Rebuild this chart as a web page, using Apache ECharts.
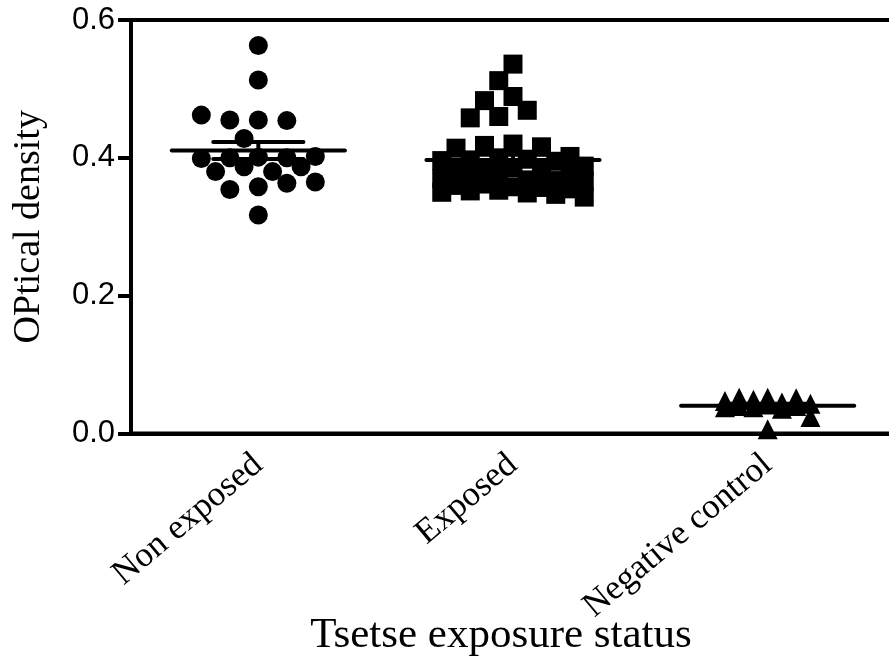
<!doctype html>
<html>
<head>
<meta charset="utf-8">
<title>Optical density</title>
<script src="https://cdn.jsdelivr.net/npm/echarts@6/dist/echarts.min.js"></script>
<style>
  html, body { margin: 0; padding: 0; background: #fff; }
  #chart { width: 889px; height: 663px; }
</style>
</head>
<body>
<div id="chart"></div>
<script>
// data
var categories = ['Non exposed', 'Exposed', 'Negative control'];
var yTicks = [0, 0.2, 0.4, 0.6];

var nonExposed = [
  0.563, 0.513,
  0.455, 0.455, 0.454, 0.462,
  0.428,
  0.401, 0.400, 0.400, 0.399, 0.402,
  0.387, 0.380, 0.387, 0.380,
  0.365, 0.358, 0.354, 0.363,
  0.317
];
var exposed = [
  0.536, 0.512, 0.489, 0.483, 0.469, 0.460, 0.458,
  0.420, 0.418, 0.416, 0.414,
  0.402, 0.400, 0.398, 0.397, 0.396, 0.395,
  0.388, 0.386, 0.384, 0.383, 0.381, 0.380,
  0.374, 0.372, 0.370, 0.368, 0.367, 0.366,
  0.362, 0.360, 0.358, 0.357, 0.355, 0.353, 0.352, 0.350, 0.349, 0.347, 0.343
];
var negativeControl = [
  0.052, 0.052, 0.051, 0.049, 0.047, 0.045, 0.043, 0.042,
  0.040, 0.040, 0.038, 0.038, 0.036, 0.024, 0.006
];

// layout
var W = 889, H = 663;
var gridBox = { left: 131, right: -6, top: 20, bottom: 229.5 };
var pxPerY = (H - gridBox.top - gridBox.bottom) / 0.6;
var pxPerCat = (W - gridBox.left - gridBox.right) / categories.length;
var SYM = 19;       // symbol size
var STEP = 14.25;   // horizontal column step of the dot plot
var maxCols = [4, 5, 3];

// simple dot plot spread: each point takes the nearest free column
function spread(values, idx) {
  var placed = [];
  var out = [];
  var cand = [0];
  for (var k = 1; k <= maxCols[idx]; k++) { cand.push(-k, k); }
  values.forEach(function (v) {
    var y = v * pxPerY;
    var best = 0, bestD = -1;
    for (var c = 0; c < cand.length; c++) {
      var x = cand[c] * STEP;
      var d = Infinity;
      placed.forEach(function (p) {
        var dd = Math.sqrt((p[0] - x) * (p[0] - x) + (p[1] - y) * (p[1] - y));
        if (dd < d) d = dd;
      });
      if (d >= SYM) { best = x; bestD = d; break; }
      if (d > bestD) { bestD = d; best = x; }
    }
    placed.push([best, y]);
    out.push([idx + best / pxPerCat, v]);
  });
  return out;
}

function stats(values) {
  var n = values.length;
  var m = values.reduce(function (a, b) { return a + b; }, 0) / n;
  var ss = values.reduce(function (a, b) { return a + (b - m) * (b - m); }, 0);
  var sd = Math.sqrt(ss / (n - 1));
  return { mean: m, sem: sd / Math.sqrt(n) };
}

var groups = [nonExposed, exposed, negativeControl];
var symbols = ['circle', 'rect', 'triangle'];

var series = groups.map(function (vals, i) {
  return {
    name: categories[i],
    type: 'scatter',
    xAxisIndex: 1,
    symbol: symbols[i],
    symbolSize: i === 2 ? 20 : SYM,
    itemStyle: { color: '#000', opacity: 1 },
    data: spread(vals, i),
    z: 3
  };
});

// mean with SEM bars
function segment(p1, p2) {
  return {
    type: 'line',
    xAxisIndex: 1,
    symbol: 'none',
    silent: true,
    lineStyle: { color: '#000', width: 4, cap: 'round' },
    data: [p1, p2],
    z: 4
  };
}
groups.forEach(function (vals, i) {
  var s = stats(vals);
  var lo = s.mean - s.sem, hi = s.mean + s.sem;
  series.push(segment([i - 0.34, s.mean], [i + 0.34, s.mean]));
  series.push(segment([i - 0.177, hi], [i + 0.177, hi]));
  series.push(segment([i - 0.177, lo], [i + 0.177, lo]));
  series.push(segment([i, lo], [i, hi]));
});

var chart = echarts.init(document.getElementById('chart'));
chart.setOption({
  animation: false,
  backgroundColor: '#fff',
  grid: {
    left: gridBox.left, right: gridBox.right, top: gridBox.top, bottom: gridBox.bottom,
    outerBoundsMode: 'none',
    containLabel: false,
    show: true, borderColor: '#000', borderWidth: 4
  },
  xAxis: [{
    type: 'category',
    data: categories,
    boundaryGap: true,
    name: 'Tsetse exposure status',
    nameLocation: 'middle',
    nameGap: 181,
    nameMoveOverlap: false,
    nameTextStyle: { fontFamily: 'Liberation Serif', fontSize: 43, color: '#000', padding: [0, 24, 0, 0] },
    axisLine: { onZero: false, lineStyle: { color: '#000', width: 4 } },
    axisTick: { alignWithLabel: true, length: 12, lineStyle: { color: '#000', width: 4 } },
    axisLabel: { rotate: 40, margin: 27, fontFamily: 'Liberation Serif', fontSize: 35, color: '#000' }
  }, {
    type: 'value',
    min: -0.5,
    max: 2.5,
    show: false
  }],
  yAxis: {
    type: 'value',
    min: yTicks[0],
    max: yTicks[yTicks.length - 1],
    interval: 0.2,
    name: 'OPtical density',
    nameLocation: 'middle',
    nameGap: 83,
    nameMoveOverlap: false,
    nameTextStyle: { fontFamily: 'Liberation Serif', fontSize: 38, color: '#000' },
    splitLine: { show: false },
    axisLine: { show: true, onZero: false, lineStyle: { color: '#000', width: 4 } },
    axisTick: { show: true, length: 13, lineStyle: { color: '#000', width: 4 } },
    axisLabel: {
      margin: 16, fontFamily: 'Liberation Sans', fontSize: 31, color: '#000',
      formatter: function (v) { return v.toFixed(1); }
    }
  },
  series: series
});
</script>
</body>
</html>
